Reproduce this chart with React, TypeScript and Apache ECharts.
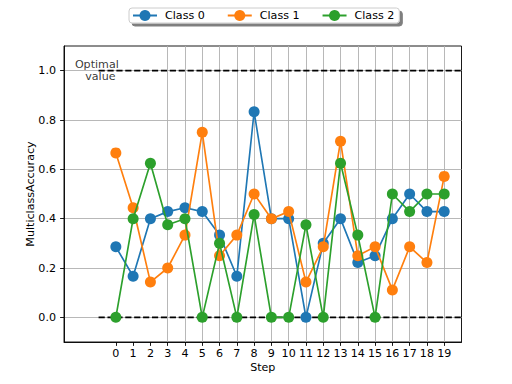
import React, { useEffect, useRef } from "react";
import * as echarts from "echarts";

const steps = Array.from({ length: 20 }, (_, i) => i);
const seriesNames = ["Class 0", "Class 1", "Class 2"];
const class0 = [0.2857, 0.1667, 0.4, 0.4286, 0.4444, 0.4286, 0.3333, 0.1667, 0.8333, 0.4, 0.4, 0.0, 0.3, 0.4, 0.2222, 0.25, 0.4, 0.5, 0.4286, 0.4286];
const class1 = [0.6667, 0.4444, 0.1429, 0.2, 0.3333, 0.75, 0.25, 0.3333, 0.5, 0.4, 0.4286, 0.1429, 0.2857, 0.7143, 0.25, 0.2857, 0.1111, 0.2857, 0.2222, 0.5714];
const class2 = [0.0, 0.4, 0.625, 0.375, 0.4, 0.0, 0.3, 0.0, 0.4167, 0.0, 0.0, 0.375, 0.0, 0.625, 0.3333, 0.0, 0.5, 0.4286, 0.5, 0.5];
const colors = ["#1f77b4", "#ff7f0e", "#2ca02c"];
const yTicks = [0, 0.2, 0.4, 0.6, 0.8, 1.0];
const xMin = -3;
const xMax = 20;
const refLevels = [0, 1];
const refStart = -1;
const refEnd = 20;
const annotationPos = [-1.1, 1.0];
const annotationLines = ["Optimal", "value"];

const FONT = "DejaVu Sans";

export default function App() {
  const ref = useRef<HTMLDivElement>(null);
  useEffect(() => {
    if (!ref.current) return;
    const chart = echarts.init(ref.current, null, { renderer: "svg" });
    const values = [class0, class1, class2];
    const series: any[] = [];
    refLevels.forEach((lv, i) => {
      series.push({
        name: "ref" + i,
        type: "line",
        data: [[refStart, lv], [refEnd, lv]],
        symbol: "none",
        silent: true,
        z: 1,
        lineStyle: { color: "#000", width: 1.67, type: [6.2, 2.7] },
      });
    });
    values.forEach((vals, i) => {
      series.push({
        name: seriesNames[i],
        type: "line",
        data: steps.map((s, j) => [s, vals[j]]),
        symbol: "circle",
        symbolSize: 11,
        z: 2 + i,
        itemStyle: { color: colors[i] },
        lineStyle: { color: colors[i], width: 1.67 },
      });
    });
    const labelText = { fontFamily: FONT, fontSize: 11.1, color: "#000", lineHeight: 12.5 };
    series.push({
      name: "annot",
      type: "scatter",
      data: [annotationPos],
      symbolSize: 0,
      silent: true,
      z: 10,
      label: {
        show: true,
        position: "inside",
        formatter: `{a|${annotationLines[0]}}\n{b|${annotationLines[1]}}`,
        align: "center",
        verticalAlign: "middle",
        rich: {
          a: { ...labelText },
          b: { ...labelText, padding: [0, 0, 0, 7] },
        },
      },
    });
    // split line colours: only show grid lines at the labelled steps
    const xGridColors: string[] = [];
    for (let v = xMin; v <= xMax; v++) {
      xGridColors.push(steps.includes(v) ? "#b0b0b0" : "rgba(0,0,0,0)");
    }
    chart.setOption({
      animation: false,
      textStyle: { fontFamily: FONT },
      legend: {
        data: seriesNames,
        left: 129,
        top: 8,
        itemWidth: 24,
        itemHeight: 13.75,
        itemGap: 22,
        padding: [2, 5, 2, 3],
        backgroundColor: "#fff",
        borderColor: "#cccccc",
        borderWidth: 1,
        borderRadius: 3,
        shadowColor: "rgba(0,0,0,0.5)",
        shadowBlur: 0,
        shadowOffsetX: 3,
        shadowOffsetY: 3,
        textStyle: { fontFamily: FONT, fontSize: 11.1, color: "#000", padding: [0, 0, 0, 3] },
      },
      grid: {
        left: 64,
        right: 50.5,
        top: 46,
        bottom: 42,
        show: true,
        borderColor: "#000",
        borderWidth: 0.9,
        backgroundColor: "transparent",
      },
      xAxis: {
        type: "value",
        min: xMin,
        max: xMax,
        interval: 1,
        name: "Step",
        nameLocation: "middle",
        nameGap: 20,
        nameMoveOverlap: false,
        nameTextStyle: { fontFamily: FONT, fontSize: 11.1, color: "#000" },
        axisLine: { show: true, onZero: false, lineStyle: { color: "#000", width: 0.9 } },
        axisTick: { show: true, length: 3.9, customValues: steps, lineStyle: { color: "#000", width: 0.9 } },
        axisLabel: { customValues: steps, margin: 6, fontFamily: FONT, fontSize: 11.1, color: "#000" },
        splitLine: { show: true, lineStyle: { color: xGridColors, width: 0.9 } },
      },
      yAxis: {
        type: "value",
        min: -0.1,
        max: 1.1,
        name: "MulticlassAccuracy",
        nameLocation: "middle",
        nameGap: 28,
        nameMoveOverlap: false,
        nameTextStyle: { fontFamily: FONT, fontSize: 11.1, color: "#000" },
        axisLine: { show: true, onZero: false, lineStyle: { color: "#000", width: 0.9 } },
        axisTick: { show: true, length: 3.9, customValues: yTicks, lineStyle: { color: "#000", width: 0.9 } },
        axisLabel: {
          customValues: yTicks,
          margin: 8,
          fontFamily: FONT,
          fontSize: 11.1,
          color: "#000",
          formatter: (v: number) => v.toFixed(1),
        },
        splitLine: { show: true, lineStyle: { color: "#b0b0b0", width: 0.9 } },
      },
      series,
    });
    return () => chart.dispose();
  }, []);
  return <div ref={ref} style={{ position: "absolute", left: 0, top: 0, width: 512, height: 384 }} />;
}
